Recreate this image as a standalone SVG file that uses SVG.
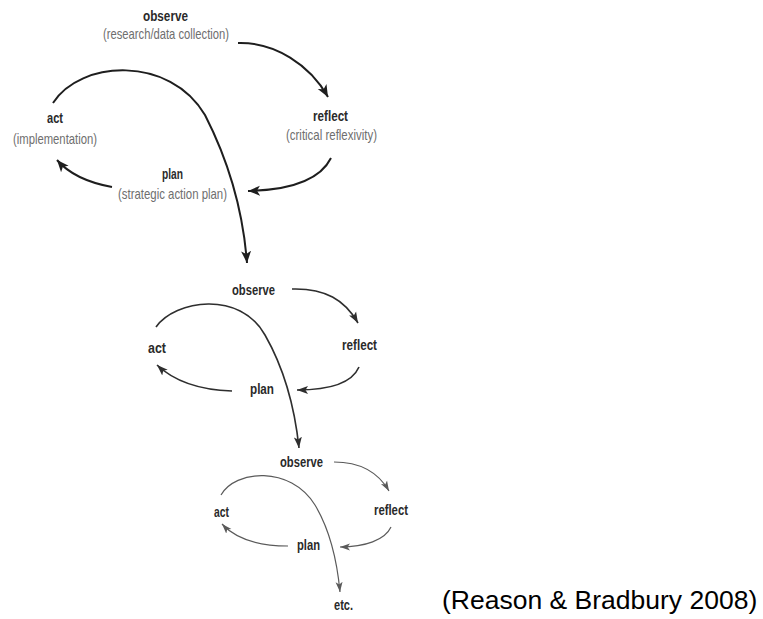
<svg xmlns="http://www.w3.org/2000/svg" width="763" height="619" viewBox="0 0 763 619">
<style>
  text { font-family: "Liberation Sans", Arial, sans-serif; text-anchor: middle; }
  .lb { font-size: 15px; font-weight: bold; fill: #2a2a2a; }
  .sub { font-size: 15px; fill: #6e6e6e; }
  .cite { font-size: 26.5px; fill: #000; text-anchor: start; }
  .c1 { fill: none; stroke: #1e1e1e; stroke-width: 2; marker-end: url(#ah1); }
  .c2 { fill: none; stroke: #2e2e2e; stroke-width: 1.6; marker-end: url(#ah2); }
  .c3 { fill: none; stroke: #5a5a5a; stroke-width: 1.2; marker-end: url(#ah3); }
</style>
<defs>
  <marker id="ah1" markerUnits="userSpaceOnUse" markerWidth="14" markerHeight="12" viewBox="0 0 14 12" refX="12" refY="6" orient="auto">
    <path d="M0,1 L12,6 L0,11 L3,6 Z" fill="#1e1e1e"/>
  </marker>
  <marker id="ah2" markerUnits="userSpaceOnUse" markerWidth="12" markerHeight="10" viewBox="0 0 12 10" refX="11" refY="5" orient="auto">
    <path d="M0,1 L11,5 L0,9 L2.5,5 Z" fill="#2e2e2e"/>
  </marker>
  <marker id="ah3" markerUnits="userSpaceOnUse" markerWidth="11" markerHeight="9" viewBox="0 0 11 9" refX="10" refY="4.5" orient="auto">
    <path d="M0,1 L10,4.5 L0,8 L2.5,4.5 Z" fill="#5a5a5a"/>
  </marker>
</defs>
<rect width="763" height="619" fill="#ffffff"/>

<g id="connectors">
  <!-- top cycle -->
  <path class="c1" d="M238,43 C275,42 310,65 328,97"/>
  <path class="c1" d="M331,158 C320,180 290,190 248,191"/>
  <path class="c1" d="M112,187 C90,183 70,175 57,160"/>
  <path class="c1" d="M53,103 C80,60 170,55 205,115 C228,160 243,210 247,263"/>
  <!-- middle cycle -->
  <path class="c2" d="M292,289 C325,288 345,300 358,323"/>
  <path class="c2" d="M359,367 C352,383 330,390 297,390"/>
  <path class="c2" d="M232,391 C200,390 175,382 157,365"/>
  <path class="c2" d="M156,327 C175,300 240,290 265,335 C285,370 295,410 299,448"/>
  <!-- bottom cycle -->
  <path class="c3" d="M334,462 C360,462 378,472 389,491"/>
  <path class="c3" d="M391,527 C385,540 365,547 340,547"/>
  <path class="c3" d="M288,546 C260,546 237,540 222,524"/>
  <path class="c3" d="M221,495 C235,470 290,465 315,505 C330,530 337,560 340,592"/>
</g>

<g id="observe1"><text class="lb" x="165.5" y="21" textLength="45" lengthAdjust="spacingAndGlyphs">observe</text>
  <text class="sub" x="166" y="39" textLength="126" lengthAdjust="spacingAndGlyphs">(research/data collection)</text></g>
<g id="reflect1"><text class="lb" x="330.5" y="121" textLength="35" lengthAdjust="spacingAndGlyphs">reflect</text>
  <text class="sub" x="331.5" y="140" textLength="91" lengthAdjust="spacingAndGlyphs">(critical reflexivity)</text></g>
<g id="plan1"><text class="lb" x="172.5" y="179" textLength="21" lengthAdjust="spacingAndGlyphs">plan</text>
  <text class="sub" x="172.5" y="199" textLength="109" lengthAdjust="spacingAndGlyphs">(strategic action plan)</text></g>
<g id="act1"><text class="lb" x="55" y="123" textLength="16" lengthAdjust="spacingAndGlyphs">act</text>
  <text class="sub" x="55" y="144" textLength="84" lengthAdjust="spacingAndGlyphs">(implementation)</text></g>

<g id="observe2"><text class="lb" x="253.5" y="295" textLength="43" lengthAdjust="spacingAndGlyphs">observe</text></g>
<g id="reflect2"><text class="lb" x="359.5" y="350" textLength="35" lengthAdjust="spacingAndGlyphs">reflect</text></g>
<g id="plan2"><text class="lb" x="262" y="394" textLength="24" lengthAdjust="spacingAndGlyphs">plan</text></g>
<g id="act2"><text class="lb" x="157" y="353" textLength="18" lengthAdjust="spacingAndGlyphs">act</text></g>

<g id="observe3"><text class="lb" x="301.5" y="467" textLength="43" lengthAdjust="spacingAndGlyphs">observe</text></g>
<g id="reflect3"><text class="lb" x="391" y="515" textLength="34" lengthAdjust="spacingAndGlyphs">reflect</text></g>
<g id="plan3"><text class="lb" x="308.5" y="550" textLength="23" lengthAdjust="spacingAndGlyphs">plan</text></g>
<g id="act3"><text class="lb" x="221.5" y="517" textLength="15" lengthAdjust="spacingAndGlyphs">act</text></g>
<g id="etc"><text class="lb" x="343.5" y="610" textLength="19" lengthAdjust="spacingAndGlyphs">etc.</text></g>

<g id="citation"><text class="cite" x="442" y="609">(Reason &amp; Bradbury 2008)</text></g>
</svg>
